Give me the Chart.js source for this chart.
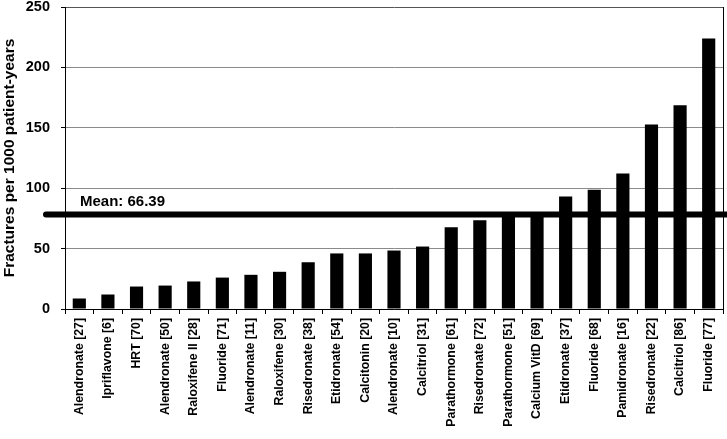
<!DOCTYPE html>
<html>
<head>
<meta charset="utf-8">
<script src="https://cdn.jsdelivr.net/npm/chart.js@4/dist/chart.umd.min.js"></script>
<style>
  html, body { margin: 0; padding: 0; background: #fff; }
  #wrap { width: 727px; height: 439px; position: relative; }
</style>
</head>
<body>
<div id="wrap"><canvas id="c" width="727" height="439"></canvas></div>
<script>
const categories = [
  "Alendronate [27]", "Ipriflavone [6]", "HRT [70]", "Alendronate [50]",
  "Raloxifene II [28]", "Fluoride [71]", "Alendronate [11]", "Raloxifene [30]",
  "Risedronate [38]", "Etidronate [54]", "Calcitonin [20]", "Alendronate [10]",
  "Calcitriol [31]", "Parathormone [61]", "Risedronate [72]", "Parathormone [51]",
  "Calcium VitD [69]", "Etidronate [37]", "Fluoride [68]", "Pamidronate [16]",
  "Risedronate [22]", "Calcitriol [86]", "Fluoride [77]"
];
const fractureRates = [
  8.7, 12, 18.6, 19.4, 22.8, 26, 28.3, 30.8,
  38.7, 46, 46, 48.4, 51.7, 67.7, 73.5, 78,
  79, 93.1, 98.7, 112.2, 152.7, 168.7, 223.9
];
const yTicks = [0, 50, 100, 150, 200, 250];
const yAxisTitle = "Fractures per 1000 patient-years";
const meanLabel = "Mean: 66.39";
const meanLineValue = 78.2;

const meanPlugin = {
  id: 'meanLine',
  afterDatasetsDraw(chart) {
    const ctx = chart.ctx;
    const y = chart.scales.y.getPixelForValue(meanLineValue);
    const area = chart.chartArea;
    ctx.save();
    ctx.strokeStyle = '#000';
    ctx.lineWidth = 1;
    ctx.beginPath();
    ctx.moveTo(area.right + 0.5, area.top);
    ctx.lineTo(area.right + 0.5, area.bottom);
    ctx.stroke();
    ctx.lineWidth = 6;
    ctx.lineCap = 'round';
    ctx.beginPath();
    ctx.moveTo(46, y);
    ctx.lineTo(chart.width + 5, y);
    ctx.stroke();
    ctx.fillStyle = '#000';
    ctx.font = 'bold 15px "Liberation Sans", Arial, sans-serif';
    ctx.textAlign = 'left';
    ctx.textBaseline = 'alphabetic';
    ctx.fillText(meanLabel, 80, y - 8.5);
    ctx.restore();
  }
};

new Chart(document.getElementById('c'), {
  type: 'bar',
  data: {
    labels: categories,
    datasets: [{
      data: fractureRates,
      backgroundColor: '#000',
      borderWidth: 0,
      barPercentage: 0.46,
      categoryPercentage: 1.0
    }]
  },
  options: {
    responsive: false,
    animation: false,
    devicePixelRatio: 1,
    layout: { padding: { top: 7, right: 4, left: 0, bottom: 0 } },
    plugins: {
      legend: { display: false },
      tooltip: { enabled: false }
    },
    scales: {
      x: {
        offset: true,
        grid: {
          offset: true,
          drawOnChartArea: false,
          drawTicks: true,
          tickLength: 5,
          tickColor: '#000'
        },
        border: { color: '#000', width: 1 },
        ticks: {
          autoSkip: false,
          minRotation: 90,
          maxRotation: 90,
          padding: 4,
          color: '#000',
          font: { family: '"Liberation Sans", Arial, sans-serif', size: 12.3, weight: 'bold' }
        },
        afterFit(scale) { scale.height = 130; scale.paddingLeft = 0; scale.paddingRight = 0; }
      },
      y: {
        min: 0,
        max: 250,
        afterBuildTicks(scale) { scale.ticks = yTicks.map(v => ({ value: v })); },
        grid: {
          color: ctx => (ctx.tick && ctx.tick.value === 250) ? '#555' : '#8a8a8a',
          lineWidth: 1,
          tickLength: 4,
          tickColor: '#000'
        },
        border: { color: '#000', width: 1 },
        ticks: {
          padding: 11,
          color: '#000',
          font: { family: '"Liberation Sans", Arial, sans-serif', size: 14.5, weight: 'bold' }
        },
        title: {
          display: true,
          text: yAxisTitle,
          color: '#000',
          padding: { top: 0, bottom: 0 },
          font: { family: '"Liberation Sans", Arial, sans-serif', size: 15.5, weight: 'bold' }
        },
        afterFit(scale) { scale.width = 65; scale.paddingTop = 0; scale.paddingBottom = 0; }
      }
    }
  },
  plugins: [meanPlugin]
});
</script>
</body>
</html>
